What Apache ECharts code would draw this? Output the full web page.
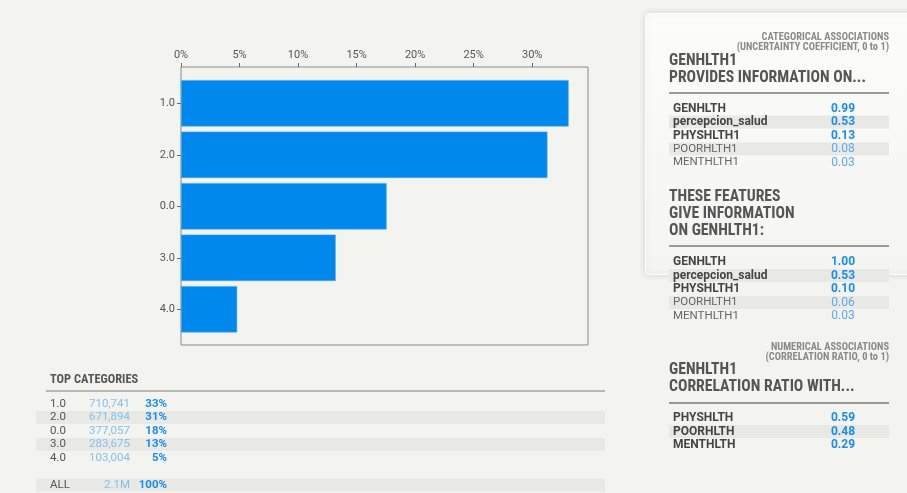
<!DOCTYPE html>
<html><head><meta charset="utf-8">
<script src="https://cdn.jsdelivr.net/npm/echarts@6/dist/echarts.min.js"></script>
<style>html,body{margin:0;padding:0;background:#f3f3ef;}#c{width:907px;height:493px;}</style>
</head><body><div id="c"></div>
<script>
// ---- data ----
const categories = ['1.0', '2.0', '0.0', '3.0', '4.0'];
const counts = [710741, 671894, 377057, 283675, 103004];
const countLabels = ['710,741', '671,894', '377,057', '283,675', '103,004'];
const pctLabels = ['33%', '31%', '18%', '13%', '5%'];
const totalLabel = '2.1M';
const totalPct = '100%';
const xTickLabels = ['0%', '5%', '10%', '15%', '20%', '25%', '30%'];

const catNames1 = ['GENHLTH', 'percepcion_salud', 'PHYSHLTH1', 'POORHLTH1', 'MENTHLTH1'];
const catVals1 = ['0.99', '0.53', '0.13', '0.08', '0.03'];
const catNames2 = ['GENHLTH', 'percepcion_salud', 'PHYSHLTH1', 'POORHLTH1', 'MENTHLTH1'];
const catVals2 = ['1.00', '0.53', '0.10', '0.06', '0.03'];
const numNames = ['PHYSHLTH', 'POORHLTH', 'MENTHLTH'];
const numVals = ['0.59', '0.48', '0.29'];

const total = counts.reduce((a, b) => a + b, 0);
const pct = counts.map(c => c / total * 100);
const xMax = Math.max(...pct) * 1.05;

// ---- styles ----
const COND = "'Roboto Condensed','Roboto',sans-serif";
const BODY = "'Roboto','Liberation Sans',sans-serif";
const DARK = '#555555';
const BLUE = '#1a8cf0';
const LBLUE = '#5aaaf0';
const PALE = '#86c0ee';
const SHADE = '#e8e8e4';

const g = [];
function text(x, y, s, o) {
  g.push({type: 'text', x: x, y: y, silent: true,
    style: Object.assign({text: s, fill: DARK, font: '11px ' + BODY, textVerticalAlign: 'middle'}, o || {})});
}
function rect(x, y, w, h, fill) {
  g.push({type: 'rect', shape: {x: x, y: y, width: w, height: h}, style: {fill: fill}, silent: true});
}
function line(x1, y1, x2, y2, c, w) {
  g.push({type: 'line', shape: {x1: x1, y1: y1, x2: x2, y2: y2}, style: {stroke: c, lineWidth: w}, silent: true});
}

// right card
g.push({type: 'rect', shape: {x: 645.5, y: 13.5, width: 275, height: 261, r: 3},
  style: {fill: {type: 'linear', x: 0, y: 0, x2: 0, y2: 1, colorStops: [{offset: 0, color: '#fcfcfb'}, {offset: 1, color: '#f4f4f1'}]},
    stroke: '#fdfdfc', lineWidth: 1,
    shadowBlur: 6, shadowColor: 'rgba(0,0,0,0.13)', shadowOffsetY: 0}, silent: true});

function assocBlock(smallLines, smallY, headLines, headY, lineY, names, vals, rowY0, boldCount) {
  smallLines.forEach((s, i) => text(889, smallY + i * 10, s, {font: 'bold 10.4px ' + COND, fill: '#8a8a8a', textAlign: 'right'}));
  headLines.forEach((s, i) => text(669, headY + i * 17, s, {font: 'bold 15.7px ' + COND, fill: DARK}));
  line(669, lineY, 889, lineY, '#7a7a7a', 1.5);
  names.forEach((n, i) => {
    const y = rowY0 + i * 13.5;
    if (i % 2 === 1) rect(669, y - 6.5, 220, 13, SHADE);
    const b = i < boldCount;
    text(673, y, n, {font: (b ? 'bold 12px ' : '11.5px ') + BODY, fill: b ? '#454545' : '#666'});
    text(843, y, vals[i], {font: (b ? 'bold ' : '') + '12px ' + BODY, fill: b ? BLUE : LBLUE, textAlign: 'center'});
  });
}
assocBlock(['CATEGORICAL ASSOCIATIONS', '(UNCERTAINTY COEFFICIENT, 0 to 1)'], 37,
  ['GENHLTH1', 'PROVIDES INFORMATION ON...'], 61, 93, catNames1, catVals1, 108.5, 3);
assocBlock([], 0, ['THESE FEATURES', 'GIVE INFORMATION', 'ON GENHLTH1:'], 197, 246, catNames2, catVals2, 262, 3);
assocBlock(['NUMERICAL ASSOCIATIONS', '(CORRELATION RATIO, 0 to 1)'], 347,
  ['GENHLTH1', 'CORRELATION RATIO WITH...'], 370, 403, numNames, numVals, 418, 3);

// top categories table
text(50, 380, 'TOP CATEGORIES', {font: 'bold 12.4px ' + COND, fill: DARK});
line(46, 391, 605, 391, '#7a7a7a', 1.2);
categories.forEach((c, i) => {
  const y = 404 + i * 13.5;
  if (i % 2 === 1) rect(36, y - 6.5, 569, 13, SHADE);
  text(50, y, c, {font: '11.5px ' + BODY, fill: DARK});
  text(130, y, countLabels[i], {font: '11.5px ' + BODY, fill: PALE, textAlign: 'right'});
  text(167, y, pctLabels[i], {font: 'bold 11.5px ' + BODY, fill: BLUE, textAlign: 'right'});
});
rect(36, 478.5, 569, 13, SHADE);
text(50, 485, 'ALL', {font: '11.5px ' + BODY, fill: DARK});
text(130, 485, totalLabel, {font: '11.5px ' + BODY, fill: PALE, textAlign: 'right'});
text(167, 485, totalPct, {font: 'bold 11.5px ' + BODY, fill: BLUE, textAlign: 'right'});

const chart = echarts.init(document.getElementById('c'), null, {renderer: 'canvas'});
chart.setOption({
  backgroundColor: '#f3f3ef',
  animation: false,
  grid: [
    {left: 181, right: 319, top: 67, bottom: 148, show: true, borderColor: '#8a8a8a', borderWidth: 1, backgroundColor: 'transparent'},
    {left: 181, right: 319, top: 77.5, bottom: 158}
  ],
  xAxis: [
    {gridIndex: 0, type: 'value', position: 'top', min: 0, max: xMax, interval: 5,
      axisLine: {show: false, onZero: false}, splitLine: {show: false},
      axisTick: {show: true, length: 4, lineStyle: {color: '#666'}},
      axisLabel: {color: DARK, fontSize: 11, fontFamily: BODY, margin: 6, showMaxLabel: false,
        formatter: v => xTickLabels[Math.round(v / 5)] || ''}},
    {gridIndex: 1, type: 'value', min: 0, max: xMax, show: false,
      axisLine: {show: false, onZero: false}, axisTick: {show: false}, splitLine: {show: false}, axisLabel: {show: false}}
  ],
  yAxis: [
    {gridIndex: 0, type: 'category', data: categories, show: false,
      axisLine: {show: false, onZero: false}, axisTick: {show: false}, splitLine: {show: false}, axisLabel: {show: false}},
    {gridIndex: 1, type: 'category', data: categories, inverse: true,
      axisLine: {show: false, onZero: false}, splitLine: {show: false},
      axisTick: {show: true, alignWithLabel: true, length: 4, lineStyle: {color: '#666'}},
      axisLabel: {color: DARK, fontSize: 11, fontFamily: BODY, margin: 6}}
  ],
  series: [{
    type: 'bar', xAxisIndex: 1, yAxisIndex: 1, data: pct,
    barCategoryGap: '10%',
    itemStyle: {color: '#0088ec', borderColor: '#4aa8f2', borderWidth: 0.6},
    silent: true
  }],
  graphic: g
});
</script></body></html>
